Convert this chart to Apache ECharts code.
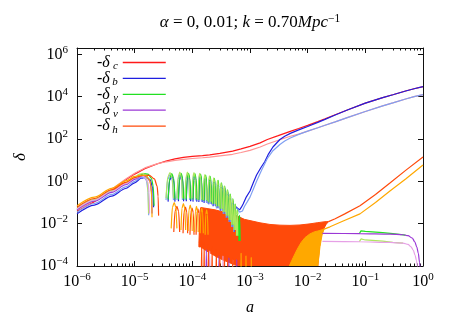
<!DOCTYPE html>
<html><head><meta charset="utf-8">
<script src="https://cdn.jsdelivr.net/npm/echarts@6/dist/echarts.min.js"></script>
<style>html,body{margin:0;padding:0;background:#fff}#c{width:452px;height:317px}</style>
</head><body><div id="c"></div>
<script>
// ---------------- tick values ----------------
const xTicksMajor = [1e-6,1e-5,1e-4,1e-3,1e-2,1e-1,1];
const xTicksMinor = [2e-6,3e-6,4e-6,5e-6,6e-6,7e-6,8e-6,9e-6,
  2e-5,3e-5,4e-5,5e-5,6e-5,7e-5,8e-5,9e-5,
  2e-4,3e-4,4e-4,5e-4,6e-4,7e-4,8e-4,9e-4,
  2e-3,3e-3,4e-3,5e-3,6e-3,7e-3,8e-3,9e-3,
  2e-2,3e-2,4e-2,5e-2,6e-2,7e-2,8e-2,9e-2,
  2e-1,3e-1,4e-1,5e-1,6e-1,7e-1,8e-1,9e-1];
const yTicks = [1e-4,1e-2,1,1e2,1e4,1e6];

// ---------------- delta_c ----------------
const deltaC0 = [[1e-6,0.039],[2e-6,0.11],[4e-6,0.38],[7e-6,1.2],[1e-5,2.2],[1.5e-5,4.0],[2.5e-5,6.8],[3.5e-5,9],[5e-5,11.5],[7e-5,13.5],[1e-4,15],[1.5e-4,16.5],[2e-4,18],[3e-4,21],[5e-4,27],[7e-4,34],[1e-3,45],[1.5e-3,66],[2e-3,95],[3e-3,140],[5e-3,230],[7e-3,315],[1e-2,440],[1.5e-2,660],[2e-2,900],[3e-2,1400],[5e-2,2400],[1e-1,5000],[2e-1,9000],[3e-1,12300],[5e-1,18500],[7e-1,23800],[1,30000]];
const deltaC1 = [[1e-6,0.044],[2e-6,0.125],[4e-6,0.42],[7e-6,1.3],[1e-5,2.4],[1.5e-5,4.3],[2.5e-5,6.9],[3.5e-5,8.4],[5e-5,9.8],[7e-5,11],[1e-4,12],[1.5e-4,13],[2e-4,14],[3e-4,16],[5e-4,19],[7e-4,23],[1e-3,29],[1.5e-3,42],[2e-3,58],[3e-3,85],[5e-3,135],[7e-3,170],[1e-2,235],[1.5e-2,340],[2e-2,450],[3e-2,650],[5e-2,1050],[1e-1,2000],[2e-1,3700],[3e-1,5100],[5e-1,7800],[7e-1,10000],[1,12600]];

// ---------------- delta_b ----------------
const bEarly0 = [[1e-6,0.029],[2e-6,0.076],[4e-6,0.2],[7e-6,0.46],[1e-5,0.85],[1.3e-5,1.4],[1.6e-5,1.6],[1.85e-5,1.2],[2.05e-5,0.5],[2.13e-5,0.06]];
const bArches0 = [
 [[3.8e-5,0.11],[4.04e-5,1.1],[4.4e-5,1.84],[4.76e-5,1.1],[5.0e-5,0.11]],
 [[5.74e-5,0.115],[6.0e-5,1.15],[6.4e-5,1.92],[6.8e-5,1.15],[7.06e-5,0.115]],
 [[7.85e-5,0.115],[8.15e-5,1.15],[8.6e-5,1.92],[9.05e-5,1.15],[9.35e-5,0.115]],
 [[1.026e-4,0.11],[1.06e-4,1.1],[1.11e-4,1.84],[1.16e-4,1.1],[1.194e-4,0.11]],
 [[1.297e-4,0.105],[1.334e-4,1.06],[1.39e-4,1.76],[1.446e-4,1.06],[1.483e-4,0.105]],
 [[1.598e-4,0.096],[1.639e-4,0.96],[1.70e-4,1.6],[1.761e-4,0.96],[1.802e-4,0.096]],
 [[1.929e-4,0.082],[1.973e-4,0.82],[2.04e-4,1.36],[2.107e-4,0.82],[2.151e-4,0.082]],
 [[2.293e-4,0.067],[2.34e-4,0.67],[2.41e-4,1.12],[2.48e-4,0.67],[2.527e-4,0.067]],
 [[2.677e-4,0.053],[2.726e-4,0.53],[2.80e-4,0.88],[2.874e-4,0.53],[2.923e-4,0.053]],
 [[3.081e-4,0.041],[3.133e-4,0.41],[3.21e-4,0.68],[3.287e-4,0.41],[3.339e-4,0.041]],
 [[3.505e-4,0.029],[3.559e-4,0.29],[3.64e-4,0.48],[3.721e-4,0.29],[3.775e-4,0.029]],
 [[3.949e-4,0.019],[4.005e-4,0.19],[4.09e-4,0.32],[4.175e-4,0.19],[4.231e-4,0.019]],
 [[4.413e-4,0.012],[4.472e-4,0.12],[4.56e-4,0.2],[4.648e-4,0.12],[4.707e-4,0.012]],
 [[4.90e-4,0.007],[4.96e-4,0.072],[5.05e-4,0.12],[5.14e-4,0.072],[5.20e-4,0.007]]
];
const bLate0 = [[5.35e-4,0.004],[5.45e-4,0.04],[5.6e-4,0.065],[6.0e-4,0.06],[6.6e-4,0.045],[7.1e-4,0.06],[7.6e-4,0.085],[8.5e-4,0.17],[1e-3,0.35],[1.15e-3,0.9],[1.3e-3,2.0],[1.55e-3,4.5],[1.8e-3,8.4],[2.1e-3,20],[2.5e-3,42],[3.3e-3,95],[4e-3,135],[5e-3,185],[7e-3,270],[1e-2,390],[1.5e-2,610],[2e-2,850],[3e-2,1370],[5e-2,2400],[1e-1,5000],[2e-1,9000],[3e-1,12300],[5e-1,18500],[7e-1,23800],[1,30000]];
const bEarly1 = [[1e-6,0.035],[2e-6,0.09],[4e-6,0.24],[7e-6,0.55],[1e-5,1.0],[1.25e-5,1.5],[1.45e-5,1.6],[1.6e-5,1.1],[1.7e-5,0.4],[1.75e-5,0.025]];
const bArches1 = [
 [[3.5e-5,0.13],[3.74e-5,1.25],[4.1e-5,2.08],[4.46e-5,1.25],[4.7e-5,0.13]],
 [[5.41e-5,0.13],[5.67e-5,1.3],[6.07e-5,2.16],[6.47e-5,1.3],[6.73e-5,0.13]],
 [[7.47e-5,0.13],[7.77e-5,1.3],[8.22e-5,2.16],[8.67e-5,1.3],[8.97e-5,0.13]],
 [[9.84e-5,0.125],[1.018e-4,1.25],[1.068e-4,2.08],[1.118e-4,1.25],[1.152e-4,0.125]],
 [[1.251e-4,0.115],[1.288e-4,1.15],[1.344e-4,1.92],[1.40e-4,1.15],[1.437e-4,0.115]],
 [[1.547e-4,0.1],[1.588e-4,1.0],[1.649e-4,1.68],[1.71e-4,1.0],[1.751e-4,0.1]],
 [[1.874e-4,0.086],[1.918e-4,0.86],[1.985e-4,1.44],[2.052e-4,0.86],[2.096e-4,0.086]],
 [[2.235e-4,0.07],[2.282e-4,0.7],[2.352e-4,1.16],[2.422e-4,0.7],[2.469e-4,0.07]],
 [[2.616e-4,0.053],[2.665e-4,0.53],[2.739e-4,0.88],[2.813e-4,0.53],[2.862e-4,0.053]],
 [[3.017e-4,0.041],[3.069e-4,0.41],[3.146e-4,0.68],[3.223e-4,0.41],[3.275e-4,0.041]],
 [[3.438e-4,0.029],[3.492e-4,0.29],[3.573e-4,0.48],[3.654e-4,0.29],[3.708e-4,0.029]],
 [[3.879e-4,0.019],[3.935e-4,0.19],[4.02e-4,0.32],[4.105e-4,0.19],[4.161e-4,0.019]],
 [[4.34e-4,0.012],[4.399e-4,0.12],[4.487e-4,0.2],[4.575e-4,0.12],[4.634e-4,0.012]],
 [[4.825e-4,0.007],[4.885e-4,0.072],[4.975e-4,0.12],[5.065e-4,0.072],[5.125e-4,0.007]]
];
const bLate1 = [[5.25e-4,0.004],[5.35e-4,0.04],[5.5e-4,0.06],[6.0e-4,0.05],[6.6e-4,0.035],[7.0e-4,0.03],[7.4e-4,0.04],[8e-4,0.065],[9e-4,0.11],[1e-3,0.18],[1.15e-3,0.45],[1.3e-3,1.0],[1.6e-3,3.5],[2e-3,12],[2.5e-3,28],[3.3e-3,55],[4e-3,80],[5e-3,112],[7e-3,165],[1e-2,235],[1.5e-2,340],[2e-2,450],[3e-2,650],[5e-2,1050],[1e-1,2000],[2e-1,3700],[3e-1,5100],[5e-1,7800],[7e-1,10000],[1,12600]];

// ---------------- delta_gamma ----------------
const gEarly0 = [[1e-6,0.048],[2e-6,0.125],[4e-6,0.33],[7e-6,0.75],[1e-5,1.35],[1.2e-5,1.9],[1.45e-5,2.3],[1.7e-5,2.2],[1.95e-5,1.4],[2.1e-5,0.6],[2.17e-5,0.07]];
const gArches0 = [
 [[3.8e-5,0.14],[4.04e-5,1.38],[4.4e-5,2.3],[4.76e-5,1.38],[5.0e-5,0.14]],
 [[5.74e-5,0.14],[6.0e-5,1.44],[6.4e-5,2.4],[6.8e-5,1.44],[7.06e-5,0.14]],
 [[7.85e-5,0.14],[8.15e-5,1.44],[8.6e-5,2.4],[9.05e-5,1.44],[9.35e-5,0.14]],
 [[1.026e-4,0.14],[1.06e-4,1.38],[1.11e-4,2.3],[1.16e-4,1.38],[1.194e-4,0.14]],
 [[1.297e-4,0.13],[1.334e-4,1.32],[1.39e-4,2.2],[1.446e-4,1.32],[1.483e-4,0.13]],
 [[1.598e-4,0.12],[1.639e-4,1.2],[1.70e-4,2.0],[1.761e-4,1.2],[1.802e-4,0.12]],
 [[1.929e-4,0.10],[1.973e-4,1.02],[2.04e-4,1.7],[2.107e-4,1.02],[2.151e-4,0.10]],
 [[2.293e-4,0.084],[2.34e-4,0.84],[2.41e-4,1.4],[2.48e-4,0.84],[2.527e-4,0.084]],
 [[2.677e-4,0.066],[2.726e-4,0.66],[2.80e-4,1.1],[2.874e-4,0.66],[2.923e-4,0.066]],
 [[3.081e-4,0.051],[3.133e-4,0.51],[3.21e-4,0.85],[3.287e-4,0.51],[3.339e-4,0.051]],
 [[3.505e-4,0.036],[3.559e-4,0.36],[3.64e-4,0.6],[3.721e-4,0.36],[3.775e-4,0.036]],
 [[3.949e-4,0.024],[4.005e-4,0.24],[4.09e-4,0.4],[4.175e-4,0.24],[4.231e-4,0.024]],
 [[4.413e-4,0.015],[4.472e-4,0.15],[4.56e-4,0.25],[4.648e-4,0.15],[4.707e-4,0.015]],
 [[4.90e-4,0.009],[4.96e-4,0.09],[5.05e-4,0.15],[5.14e-4,0.09],[5.20e-4,0.009]],
 [[5.397e-4,0.005],[5.458e-4,0.051],[5.55e-4,0.085],[5.642e-4,0.051],[5.703e-4,0.005]],
 [[5.904e-4,0.0027],[5.966e-4,0.027],[6.06e-4,0.045],[6.154e-4,0.027],[6.216e-4,0.0027]],
 [[6.42e-4,0.0015],[6.48e-4,0.015],[6.58e-4,0.025],[6.68e-4,0.015],[6.74e-4,0.0015]]
];
const gLate0 = [[7.9e-2,0.0034],[8.05e-2,0.0042],[8.4e-2,0.0046],[1e-1,0.0043],[2e-1,0.0038],[3e-1,0.0034],[5e-1,0.0029]];
const gEarly1 = [[1e-6,0.054],[2e-6,0.14],[4e-6,0.37],[7e-6,0.85],[1e-5,1.5],[1.2e-5,2.2],[1.4e-5,2.4],[1.55e-5,2.0],[1.65e-5,1.0],[1.71e-5,0.3],[1.74e-5,0.03]];
const gArches1 = [
 [[3.5e-5,0.16],[3.74e-5,1.56],[4.1e-5,2.6],[4.46e-5,1.56],[4.7e-5,0.16]],
 [[5.41e-5,0.16],[5.67e-5,1.62],[6.07e-5,2.7],[6.47e-5,1.62],[6.73e-5,0.16]],
 [[7.47e-5,0.16],[7.77e-5,1.62],[8.22e-5,2.7],[8.67e-5,1.62],[8.97e-5,0.16]],
 [[9.84e-5,0.16],[1.018e-4,1.56],[1.068e-4,2.6],[1.118e-4,1.56],[1.152e-4,0.16]],
 [[1.251e-4,0.14],[1.288e-4,1.44],[1.344e-4,2.4],[1.40e-4,1.44],[1.437e-4,0.14]],
 [[1.547e-4,0.13],[1.588e-4,1.26],[1.649e-4,2.1],[1.71e-4,1.26],[1.751e-4,0.13]],
 [[1.874e-4,0.11],[1.918e-4,1.08],[1.985e-4,1.8],[2.052e-4,1.08],[2.096e-4,0.11]],
 [[2.235e-4,0.087],[2.282e-4,0.87],[2.352e-4,1.45],[2.422e-4,0.87],[2.469e-4,0.087]],
 [[2.616e-4,0.066],[2.665e-4,0.66],[2.739e-4,1.1],[2.813e-4,0.66],[2.862e-4,0.066]],
 [[3.017e-4,0.051],[3.069e-4,0.51],[3.146e-4,0.85],[3.223e-4,0.51],[3.275e-4,0.051]],
 [[3.438e-4,0.036],[3.492e-4,0.36],[3.573e-4,0.6],[3.654e-4,0.36],[3.708e-4,0.036]],
 [[3.879e-4,0.024],[3.935e-4,0.24],[4.02e-4,0.4],[4.105e-4,0.24],[4.161e-4,0.024]],
 [[4.34e-4,0.015],[4.399e-4,0.15],[4.487e-4,0.25],[4.575e-4,0.15],[4.634e-4,0.015]],
 [[4.825e-4,0.009],[4.885e-4,0.09],[4.975e-4,0.15],[5.065e-4,0.09],[5.125e-4,0.009]],
 [[5.32e-4,0.005],[5.381e-4,0.051],[5.473e-4,0.085],[5.565e-4,0.051],[5.626e-4,0.005]],
 [[5.83e-4,0.0027],[5.89e-4,0.027],[5.98e-4,0.045],[6.07e-4,0.027],[6.13e-4,0.0027]]
];
const gLate1 = [[7.9e-2,0.00142],[8.05e-2,0.0017],[8.4e-2,0.0019],[1e-1,0.0017],[2e-1,0.0015],[3e-1,0.00132],[4.5e-1,0.0012]];

// ---------------- delta_nu ----------------
const nEarly0 = [[1e-6,0.045],[2e-6,0.115],[4e-6,0.3],[7e-6,0.7],[1e-5,1.25],[1.3e-5,1.75],[1.6e-5,1.7],[1.85e-5,1.0],[1.97e-5,0.3],[2.0e-5,0.03]];
const nSpikes0 = [
 [[1.72e-4,1e-5],[1.75e-4,6e-4],[1.78e-4,1e-5]],
 [[2.85e-4,1e-5],[2.9e-4,3e-4],[2.95e-4,1e-5]],
 [[4.22e-4,1e-5],[4.3e-4,2.5e-4],[4.38e-4,1e-5]],
 [[5.8e-4,1e-5],[5.9e-4,2e-4],[6.0e-4,1e-5]]
];
const nLate0 = [[1.8e-2,0.0035],[8.1e-2,0.0034],[2.67e-1,0.0032],[4.5e-1,0.0030],[5.5e-1,0.0027],[6.5e-1,0.0021],[7.2e-1,0.0014],[7.8e-1,8e-4],[8.3e-1,4e-4],[8.7e-1,1.5e-4],[9e-1,5e-5]];
const nEarly1 = [[1e-6,0.05],[2e-6,0.13],[4e-6,0.34],[7e-6,0.78],[1e-5,1.4],[1.3e-5,1.85],[1.5e-5,1.6],[1.7e-5,0.9],[1.78e-5,0.3],[1.81e-5,0.03]];
const nSpikes1 = [
 [[1.96e-4,1e-5],[2.0e-4,5e-4],[2.04e-4,1e-5]],
 [[3.34e-4,1e-5],[3.4e-4,3e-4],[3.46e-4,1e-5]],
 [[4.92e-4,1e-5],[5.0e-4,2e-4],[5.08e-4,1e-5]]
];
const nLate1 = [[1.8e-2,0.00146],[8.1e-2,0.0014],[2.67e-1,0.0013],[4.5e-1,0.0012],[5.5e-1,0.00105],[6.2e-1,8e-4],[6.8e-1,5.5e-4],[7.3e-1,3.2e-4],[7.7e-1,1.8e-4],[8e-1,1e-4],[8.3e-1,3e-5]];

// ---------------- delta_h ----------------
const hEarly0 = [[1e-6,0.06],[2e-6,0.155],[4e-6,0.4],[7e-6,0.9],[1e-5,1.5],[1.4e-5,1.9],[1.8e-5,1.9],[2.2e-5,1.3],[2.45e-5,0.6],[2.55e-5,0.2],[2.6e-5,0.024]];
const hArches0 = [
 [[4.77e-5,0.004],[5.02e-5,0.039],[5.4e-5,0.065],[5.78e-5,0.039],[6.03e-5,0.004]],
 [[6.9e-5,0.0035],[7.18e-5,0.036],[7.6e-5,0.06],[8.02e-5,0.036],[8.3e-5,0.0035]],
 [[9.1e-5,0.003],[9.42e-5,0.033],[9.9e-5,0.055],[1.038e-4,0.033],[1.07e-4,0.003]],
 [[1.162e-4,0.003],[1.197e-4,0.03],[1.25e-4,0.05],[1.303e-4,0.03],[1.338e-4,0.003]],
 [[1.43e-4,1e-5],[1.45e-4,1.5e-3],[1.47e-4,1e-5]],
 [[1.58e-4,1e-5],[1.6e-4,1.2e-3],[1.62e-4,1e-5]],
 [[1.87e-4,1e-5],[1.9e-4,1e-3],[1.93e-4,1e-5]],
 [[2.17e-4,1e-5],[2.2e-4,8e-4],[2.23e-4,1e-5]],
 [[2.56e-4,1e-5],[2.6e-4,6e-4],[2.64e-4,1e-5]],
 [[2.95e-4,1e-5],[3.0e-4,5e-4],[3.05e-4,1e-5]],
 [[3.55e-4,1e-5],[3.6e-4,4e-4],[3.65e-4,1e-5]],
 [[4.04e-4,1e-5],[4.1e-4,3e-4],[4.16e-4,1e-5]],
 [[4.93e-4,1e-5],[5.0e-4,2.5e-4],[5.07e-4,1e-5]]
];
// dense oscillation region: [a, lower envelope, upper envelope] (1e-4 = bottom of plot)
const hBand0 = [[1.3e-4,8e-4,0.0012],[1.36e-4,8e-4,0.04],[1.4e-4,8e-4,0.058],[1.8e-4,5e-4,0.052],[2.47e-4,3e-4,0.045],[3.3e-4,2e-4,0.037],[4.5e-4,1.4e-4,0.030],[5.5e-4,1.1e-4,0.025],[6.71e-4,1e-4,0.020],[8e-4,1e-4,0.016],[1e-3,1e-4,0.014],[1.49e-3,1e-4,0.011],[2.22e-3,1e-4,0.0092],[3.31e-3,1e-4,0.0085],[4.94e-3,1e-4,0.0083],[7.36e-3,1e-4,0.0087],[1.097e-2,1e-4,0.0098],[1.5e-2,1e-4,0.0112],[1.635e-2,0.0015,0.0115],[1.85e-2,0.005,0.0121],[2.1e-2,0.0095,0.0125],[2.3e-2,0.0124,0.0126]];
const hLine0 = [[2.3e-2,0.0125],[3e-2,0.0172],[4.4e-2,0.029],[8.07e-2,0.071],[1.5e-1,0.24],[2.67e-1,0.83],[5e-1,3.3],[1,14]];
const hEarly1 = [[1e-6,0.07],[2e-6,0.18],[4e-6,0.47],[7e-6,1.05],[1e-5,1.7],[1.3e-5,2.0],[1.6e-5,1.8],[1.8e-5,1.2],[1.9e-5,0.7],[1.97e-5,0.2],[2.0e-5,0.02]];
const hArches1 = [
 [[4.3e-5,0.006],[4.52e-5,0.06],[4.85e-5,0.1],[5.18e-5,0.06],[5.4e-5,0.006]],
 [[6.35e-5,0.005],[6.61e-5,0.054],[7.0e-5,0.09],[7.39e-5,0.054],[7.65e-5,0.005]],
 [[8.45e-5,0.0045],[8.75e-5,0.045],[9.2e-5,0.075],[9.65e-5,0.045],[9.95e-5,0.0045]],
 [[1.095e-4,0.004],[1.129e-4,0.039],[1.18e-4,0.065],[1.231e-4,0.039],[1.265e-4,0.004]],
 [[1.37e-4,0.0035],[1.406e-4,0.033],[1.46e-4,0.055],[1.514e-4,0.033],[1.55e-4,0.0035]],
 [[1.67e-4,0.003],[1.71e-4,0.027],[1.77e-4,0.045],[1.83e-4,0.027],[1.87e-4,0.003]],
 [[6.9e-4,1e-5],[7.0e-4,4e-4],[7.1e-4,1e-5]],
 [[8.4e-4,1e-5],[8.5e-4,3e-4],[8.6e-4,1e-5]],
 [[1.04e-3,1e-5],[1.05e-3,2.5e-4],[1.06e-3,1e-5]]
];
const hBand1 = [[4.8e-3,1e-4,1e-4],[5.6e-3,1e-4,2.5e-4],[6.55e-3,1e-4,6e-4],[7.7e-3,1e-4,1.3e-3],[9.0e-3,1e-4,2.2e-3],[1.097e-2,1e-4,3.3e-3],[1.33e-2,1e-4,4.2e-3],[1.5e-2,1e-4,4.5e-3],[1.635e-2,8e-4,4.8e-3],[1.78e-2,0.003,5.2e-3],[1.92e-2,0.0054,5.6e-3]];
const hLine1 = [[1.92e-2,0.0055],[2.44e-2,0.0071],[4.13e-2,0.0133],[8.07e-2,0.029],[1.5e-1,0.1],[2.67e-1,0.35],[5e-1,1.3],[1,5.9]];

// ---------------- build ----------------
const FONT = 'Liberation Serif';
function brk(parts){ const out=[]; parts.forEach((p,i)=>{ if(i) out.push([p[0][0],'-']); p.forEach(q=>out.push(q)); }); return out; }
const COL = {c0:'#ff1a1a', c1:'#ff9494', b0:'#1f1fe0', b1:'#7f9ff2', g0:'#22e022', g1:'#aee65e', n0:'#9b38d6', n1:'#e6a0e6', h0:'#ff4a0a', h1:'#ffa800'};
function ln(name, color, data, smooth){ return {type:'line', name, data, symbol:'none', showSymbol:false, smooth: smooth ? 0.3 : false, smoothMonotone:'x', clip:true, silent:true, lineStyle:{color, width:1.2}, itemStyle:{color}, z:2}; }
function band(color, rows){
  return {type:'custom', silent:true, clip:true, xAxisIndex:0, yAxisIndex:0, z:2,
    data: rows.map(r=>[r[0], r[2]]),
    renderItem: function(params, api){
      if (params.dataIndex !== 0) return null;
      const pts = rows.map(r => api.coord([r[0], r[2]]));
      for (let i = rows.length-1; i >= 0; i--) pts.push(api.coord([rows[i][0], rows[i][1]]));
      return {type:'polygon', shape:{points:pts}, style:{fill:color, stroke:color, lineWidth:1}};
    }};
}
function supLabel(v){ const e=Math.round(Math.log10(v)); return '{n|10}{s|'+(e<0?'\u2212'+(-e):e)+'}'; }
const richSup = { n:{fontFamily:FONT, fontSize:16, color:'#000', lineHeight:16}, s:{fontFamily:FONT, fontSize:11, color:'#000', lineHeight:8, padding:[0,0,9,0]} };

const series = [
  band(COL.h0, hBand0),
  band(COL.h1, hBand1),
  ln('-δc', COL.c0, deltaC0, false),
  ln('c1', COL.c1, deltaC1, false),
  ln('-δb', COL.b0, brk([bEarly0].concat(bArches0)), true),
  ln('b0late', COL.b0, bLate0, false),
  ln('b1', COL.b1, brk([bEarly1].concat(bArches1)), true),
  ln('b1late', COL.b1, bLate1, false),
  ln('-δγ', COL.g0, brk([gEarly0].concat(gArches0)), true),
  ln('g0late', COL.g0, gLate0, false),
  ln('g1', COL.g1, brk([gEarly1].concat(gArches1)), true),
  ln('g1late', COL.g1, gLate1, false),
  ln('-δν', COL.n0, brk([nEarly0].concat(nSpikes0)), true),
  ln('n0late', COL.n0, nLate0, true),
  ln('n1', COL.n1, brk([nEarly1].concat(nSpikes1)), true),
  ln('n1late', COL.n1, nLate1, true),
  ln('-δh', COL.h0, brk([hEarly0].concat(hArches0)), true),
  ln('h0late', COL.h0, hLine0, false),
  ln('h1', COL.h1, brk([hEarly1].concat(hArches1)), true),
  ln('h1late', COL.h1, hLine1, false)
];

const axLine = {show:true, lineStyle:{color:'#111', width:1}};
const xBase = {type:'log', min:1e-6, max:1, gridIndex:0, splitLine:{show:false}, minorTick:{show:false}};
const chart = echarts.init(document.getElementById('c'));
chart.setOption({
  animation:false,
  backgroundColor:'#fff',
  graphic:[{type:'text', x:250, y:23, silent:true,
    style:{text:'{i|α} = 0, 0.01; {i|k} = 0.70{i|Mpc}{s|\u22121}', align:'center', verticalAlign:'middle',
      fontFamily:FONT, fontSize:17, fill:'#000',
      rich:{ i:{fontFamily:FONT, fontStyle:'italic', fontSize:17, fill:'#000', lineHeight:17}, s:{fontFamily:FONT, fontSize:11.5, fill:'#000', lineHeight:8, padding:[0,0,9,0]} } } }],
  grid:{left:77, right:29, top:48, bottom:51, containLabel:false, outerBoundsMode:'none'},
  legend:{ data:['-δc','-δb','-δγ','-δν','-δh'], orient:'vertical', left:92, top:48, align:'right', icon:'rect',
    itemWidth:43, itemHeight:1.3, itemGap:-3.1, selectedMode:false,
    formatter: n => '{m|-}{d|δ}{s|'+n.slice(2)+'}',
    textStyle:{ rich:{ m:{fontFamily:FONT, fontSize:16, color:'#000', lineHeight:14}, d:{fontFamily:FONT, fontStyle:'italic', fontSize:16, color:'#000', lineHeight:14}, s:{fontFamily:FONT, fontStyle:'italic', fontSize:11, color:'#000', lineHeight:6, width:8, padding:[8,0,0,0]} } } },
  xAxis:[
    Object.assign({}, xBase, {position:'bottom', axisLine:axLine, axisTick:{show:true, inside:true, length:5, customValues:xTicksMajor, lineStyle:{color:'#111'}},
      axisLabel:{show:true, customValues:xTicksMajor, formatter:supLabel, rich:richSup, margin:8},
      name:'a', nameLocation:'middle', nameGap:34, nameTextStyle:{fontFamily:FONT, fontStyle:'italic', fontSize:16, color:'#000'}}),
    Object.assign({}, xBase, {position:'top', axisLine:axLine, axisTick:{show:true, inside:true, length:5, customValues:xTicksMajor, lineStyle:{color:'#111'}}, axisLabel:{show:false}}),
    Object.assign({}, xBase, {position:'top', axisLine:{show:false}, axisTick:{show:true, inside:true, length:2.5, customValues:xTicksMinor, lineStyle:{color:'#111'}}, axisLabel:{show:false}}),
    Object.assign({}, xBase, {position:'bottom', axisLine:{show:false}, axisTick:{show:true, inside:true, length:2.5, customValues:xTicksMinor, lineStyle:{color:'#111'}}, axisLabel:{show:false}})
  ],
  yAxis:[
    {type:'log', min:1e-4, max:2e6, position:'left', splitLine:{show:false}, axisLine:axLine,
      axisTick:{show:true, inside:true, length:5, customValues:yTicks, lineStyle:{color:'#111'}},
      axisLabel:{show:true, customValues:yTicks, formatter:supLabel, rich:richSup, margin:9},
      name:'δ', nameLocation:'middle', nameGap:36, nameRotate:90, nameTextStyle:{fontFamily:FONT, fontStyle:'italic', fontSize:17, color:'#000'}},
    {type:'log', min:1e-4, max:2e6, position:'right', splitLine:{show:false}, axisLine:axLine,
      axisTick:{show:true, inside:true, length:5, customValues:yTicks, lineStyle:{color:'#111'}}, axisLabel:{show:false}}
  ],
  series: series
});
</script></body></html>
